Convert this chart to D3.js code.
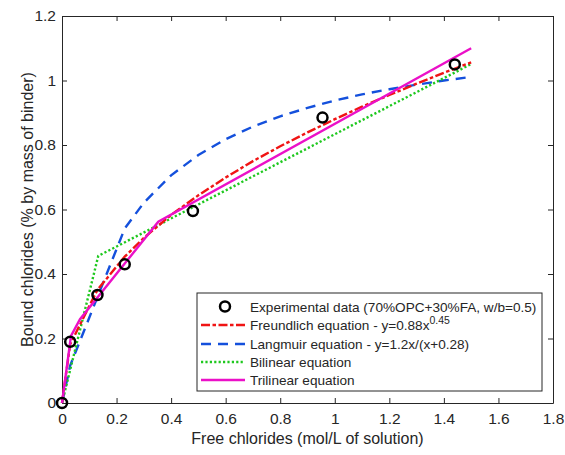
<!DOCTYPE html>
<html>
<head>
<meta charset="utf-8">
<script src="https://cdn.jsdelivr.net/npm/d3@7"></script>
<style>
  body { margin: 0; background: #fff; }
  text { font-family: "Liberation Sans", Arial, sans-serif; fill: #262626; }
</style>
</head>
<body>
<div id="wrapper"></div>
<script>
// Experimental data (70%OPC+30%FA, w/b=0.5)
const expX = [0, 0.03, 0.13, 0.23, 0.48, 0.955, 1.44];
const expY = [0, 0.19, 0.335, 0.43, 0.595, 0.885, 1.05];

// Freundlich curve
const freundX = [0, 0.03, 0.13, 0.23, 0.3, 0.4, 0.5, 0.6, 0.7, 0.8, 0.9, 1.0, 1.1, 1.2, 1.3, 1.4, 1.5];
const freundY = [0, 0.182, 0.351, 0.454, 0.512, 0.583, 0.644, 0.699, 0.750, 0.796, 0.839, 0.880, 0.919, 0.955, 0.990, 1.024, 1.056];

// Langmuir curve
const langX = [0, 0.03, 0.23, 0.3, 0.4, 0.5, 0.6, 0.7, 0.8, 0.9, 1.0, 1.1, 1.2, 1.3, 1.4, 1.49];
const langY = [0, 0.116, 0.541, 0.621, 0.706, 0.769, 0.818, 0.857, 0.889, 0.915, 0.938, 0.957, 0.973, 0.987, 1.0, 1.010];

// Bilinear
const biX = [0, 0.133, 1.5];
const biY = [0, 0.456, 1.051];

// Trilinear
const triX = [0, 0.033, 0.066, 0.353, 1.5];
const triY = [0, 0.208, 0.26, 0.562, 1.10];

const xTicks = [0, 0.2, 0.4, 0.6, 0.8, 1, 1.2, 1.4, 1.6, 1.8];
const yTicks = [0, 0.2, 0.4, 0.6, 0.8, 1, 1.2];

const legendLabels = [
  "Experimental data (70%OPC+30%FA, w/b=0.5)",
  "Freundlich equation - y=0.88x",
  "Langmuir equation - y=1.2x/(x+0.28)",
  "Bilinear equation",
  "Trilinear equation"
];

const width = 565, height = 455;
const margin = { top: 16, right: 12, bottom: 52, left: 62 };

const svg = d3.select("#wrapper")
  .append("svg")
  .attr("width", width)
  .attr("height", height);

const x = d3.scaleLinear().domain([0, 1.8]).range([margin.left, width - margin.right]);
const y = d3.scaleLinear().domain([0, 1.2]).range([height - margin.bottom, margin.top]);

// axes box with inward ticks
const tickLen = 5;
const axisColor = "#262626";
const axisB = svg.append("g")
  .attr("transform", "translate(0," + y(0) + ")")
  .call(d3.axisBottom(x).tickValues(xTicks).tickFormat(d3.format("~g")).tickSizeInner(-tickLen).tickSizeOuter(0).tickPadding(10));
const axisT = svg.append("g")
  .attr("transform", "translate(0," + y(1.2) + ")")
  .call(d3.axisTop(x).tickValues(xTicks).tickFormat("").tickSizeInner(-tickLen).tickSizeOuter(0));
const axisL = svg.append("g")
  .attr("transform", "translate(" + x(0) + ",0)")
  .call(d3.axisLeft(y).tickValues(yTicks).tickFormat(d3.format("~g")).tickSizeInner(-tickLen).tickSizeOuter(0).tickPadding(6));
const axisR = svg.append("g")
  .attr("transform", "translate(" + x(1.8) + ",0)")
  .call(d3.axisRight(y).tickValues(yTicks).tickFormat("").tickSizeInner(-tickLen).tickSizeOuter(0));

[axisB, axisT, axisL, axisR].forEach(g => {
  g.selectAll("path, line").attr("stroke", axisColor);
  g.selectAll("text").attr("fill", axisColor).style("font-size", "15.5px")
    .style("font-family", "'Liberation Sans', Arial, sans-serif");
});

svg.append("text")
  .attr("x", (x(0) + x(1.8)) / 2)
  .attr("y", 444)
  .attr("text-anchor", "middle")
  .style("font-size", "16px")
  .text("Free chlorides (mol/L of solution)");

svg.append("text")
  .attr("transform", "translate(33," + (y(0.6)) + ") rotate(-90)")
  .attr("text-anchor", "middle")
  .style("font-size", "16px")
  .text("Bound chlorides (% by mass of binder)");

// series
const line = d3.line().x(d => x(d[0])).y(d => y(d[1]));
const zip = (a, b) => a.map((v, i) => [v, b[i]]);

const series = [
  { pts: zip(langX, langY), color: "#1450dc", dash: "10,7" },
  { pts: zip(biX, biY), color: "#1ec81e", dash: "2.2,2.2" },
  { pts: zip(freundX, freundY), color: "#f01414", dash: "9,2.5,3.5,2.5" },
  { pts: zip(triX, triY), color: "#eb10c8", dash: null }
];

series.forEach(s => {
  svg.append("path")
    .attr("d", line(s.pts))
    .attr("fill", "none")
    .attr("stroke", s.color)
    .attr("stroke-width", 2.4)
    .attr("stroke-dasharray", s.dash);
});

svg.append("g")
  .selectAll("circle")
  .data(zip(expX, expY))
  .enter()
  .append("circle")
  .attr("cx", d => x(d[0]))
  .attr("cy", d => y(d[1]))
  .attr("r", 5)
  .attr("fill", "none")
  .attr("stroke", "#000")
  .attr("stroke-width", 2.5);

// legend
const lg = svg.append("g");
lg.append("rect")
  .attr("x", 197).attr("y", 293)
  .attr("width", 345).attr("height", 98)
  .attr("fill", "#fff")
  .attr("stroke", axisColor)
  .attr("stroke-width", 1);

const rowY = [306.5, 325, 344, 362, 380];
lg.append("circle")
  .attr("cx", 225).attr("cy", rowY[0])
  .attr("r", 5).attr("fill", "none")
  .attr("stroke", "#000").attr("stroke-width", 2.5);
const legendSeries = [series[2], series[0], series[1], series[3]];
legendSeries.forEach((s, i) => {
  lg.append("line")
    .attr("x1", 201).attr("x2", 245)
    .attr("y1", rowY[i + 1]).attr("y2", rowY[i + 1])
    .attr("stroke", s.color)
    .attr("stroke-width", 2.4)
    .attr("stroke-dasharray", s.dash);
});
legendLabels.forEach((t, i) => {
  const txt = lg.append("text")
    .attr("x", 250)
    .attr("y", rowY[i] + 5)
    .style("font-size", "13.6px")
    .text(t);
  if (i === 1) {
    txt.append("tspan")
      .attr("dy", -6)
      .style("font-size", "10.5px")
      .text("0.45");
  }
});
</script>
</body>
</html>
